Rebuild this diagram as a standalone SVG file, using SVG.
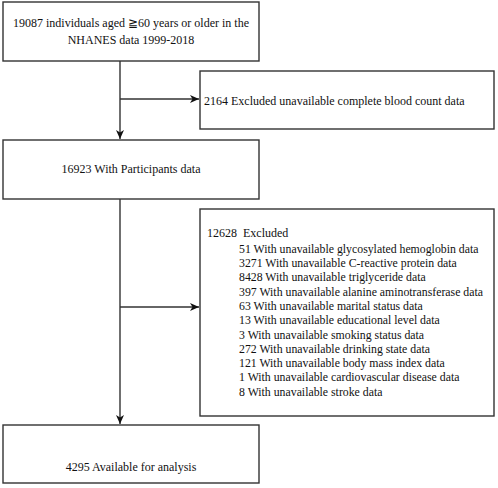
<svg xmlns="http://www.w3.org/2000/svg" width="498" height="488" viewBox="0 0 498 488">
<style>
.box{fill:#fff;stroke:#333;stroke-width:1.4}
.t{font-family:"Liberation Serif","Times New Roman",serif;font-size:12px;fill:#111}
.s{font-size:11.8px}
.c{text-anchor:middle}
.ln{stroke:#333;stroke-width:1.4;fill:none}
</style>
<defs>
<marker id="ah" markerWidth="10" markerHeight="10" refX="9" refY="5" orient="auto" markerUnits="userSpaceOnUse">
<path d="M0,1 L9,5 L0,9 L2.5,5 Z" fill="#111"/>
</marker>
</defs>
<rect width="498" height="488" fill="#fff"/>
<g id="connectors">
<line class="ln" x1="120" y1="61" x2="120" y2="139" marker-end="url(#ah)"/>
<line class="ln" x1="120" y1="99" x2="199" y2="99" marker-end="url(#ah)"/>
<line class="ln" x1="120" y1="199" x2="120" y2="424" marker-end="url(#ah)"/>
<line class="ln" x1="120" y1="307" x2="199" y2="307" marker-end="url(#ah)"/>
</g>
<g id="n1">
<rect class="box" x="3" y="2" width="256" height="59"/>
<text class="t c" x="131" y="27">19087 individuals aged ≧60 years or older in the</text>
<text class="t c" x="131" y="44">NHANES data 1999-2018</text>
</g>
<g id="n2">
<rect class="box" x="200" y="71" width="294" height="58"/>
<text class="t" x="204" y="105">2164 Excluded unavailable complete blood count data</text>
</g>
<g id="n3">
<rect class="box" x="3" y="140" width="256" height="59"/>
<text class="t c" x="131" y="173">16923 With Participants data</text>
</g>
<g id="n4">
<rect class="box" x="200" y="209" width="294" height="207"/>
<text class="t" x="207" y="237">12628</text>
<text class="t" x="243" y="237">Excluded</text>
<text class="t s" x="239" y="252.7">51 With unavailable glycosylated hemoglobin data</text>
<text class="t s" x="239" y="267">3271 With unavailable C-reactive protein data</text>
<text class="t s" x="239" y="281.3">8428 With unavailable triglyceride data</text>
<text class="t s" x="239" y="295.6">397 With unavailable alanine aminotransferase data</text>
<text class="t s" x="239" y="309.9">63 With unavailable marital status data</text>
<text class="t s" x="239" y="324.2">13 With unavailable educational level data</text>
<text class="t s" x="239" y="338.5">3 With unavailable smoking status data</text>
<text class="t s" x="239" y="352.8">272 With unavailable drinking state data</text>
<text class="t s" x="239" y="367.1">121 With unavailable body mass index data</text>
<text class="t s" x="239" y="381.4">1 With unavailable cardiovascular disease data</text>
<text class="t s" x="239" y="395.7">8 With unavailable stroke data</text>
</g>
<g id="n5">
<rect class="box" x="3" y="425" width="256" height="58"/>
<text class="t c" x="131" y="471">4295 Available for analysis</text>
</g>
</svg>
